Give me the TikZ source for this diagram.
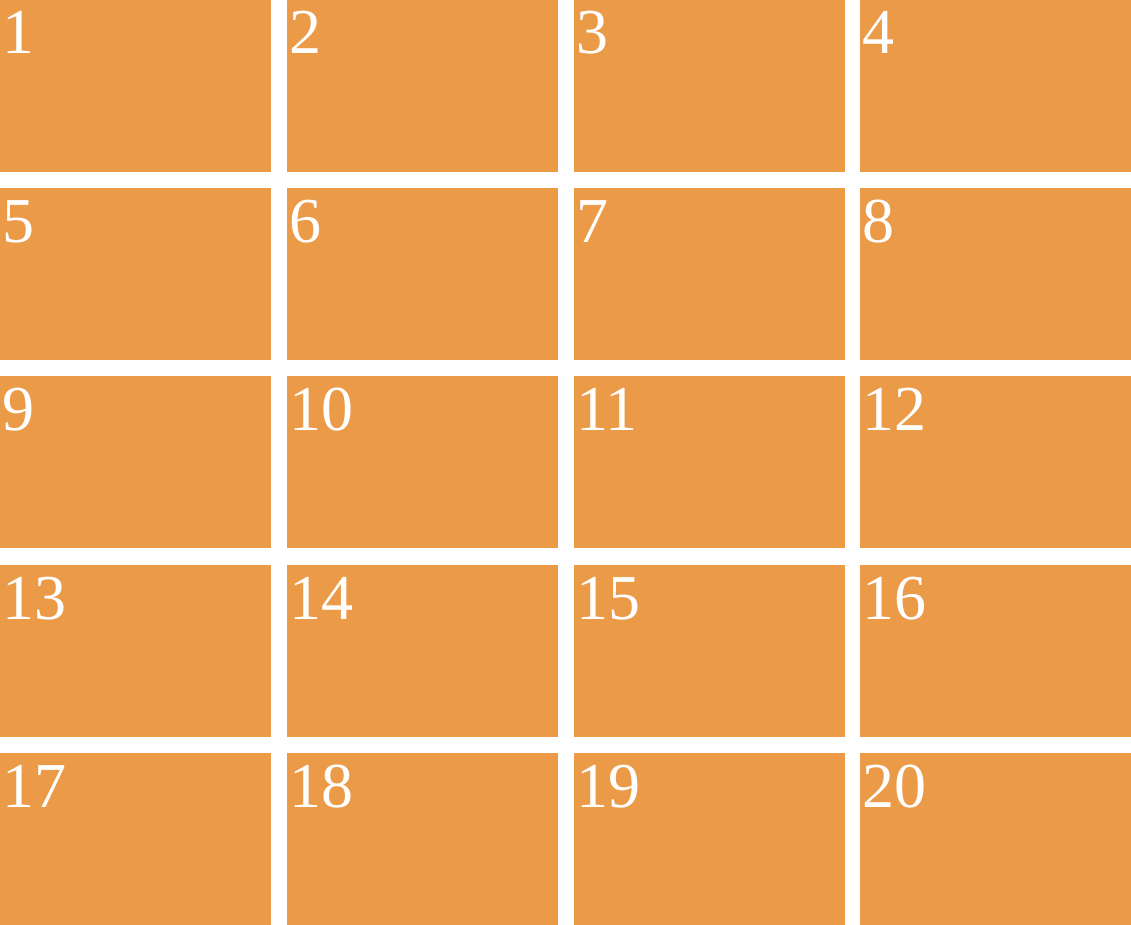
\documentclass[tikz,border=0pt]{standalone}
\usepackage{fontspec}
\setmainfont{Liberation Serif}
\definecolor{cellorange}{RGB}{235,154,72}
\tikzset{
  cellbox/.style={fill=cellorange, draw=none},
  celllabel/.style={anchor=base west, inner sep=0pt, text=white, font=\fontsize{64}{64}\selectfont}
}
\begin{document}
\begin{tikzpicture}[x=1pt,y=-1pt]
\useasboundingbox (0,0) rectangle (1131,925);
\fill[white] (0,0) rectangle (1131,925);
\def\colx{{0,287,574,860}}
\def\rowy{{0,188,376,565,753}}
\foreach \r in {0,...,4}{
  \foreach \c in {0,...,3}{
    \pgfmathsetmacro{\xx}{\colx[\c]}
    \pgfmathsetmacro{\yy}{\rowy[\r]}
    \pgfmathtruncatemacro{\n}{\r*4+\c+1}
    \fill[cellbox] (\xx,\yy) rectangle ++(271,172);
    \node[celllabel] (t\n) at (\xx+2,\yy+54) {\n};
  }
}
\end{tikzpicture}
\end{document}
